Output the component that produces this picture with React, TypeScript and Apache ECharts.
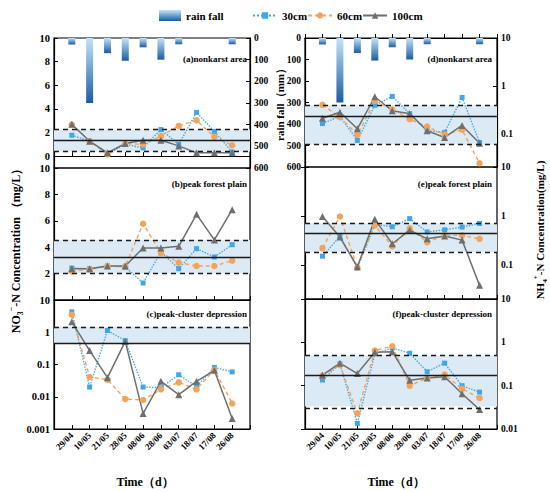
import React, { useEffect, useRef } from 'react';
import * as echarts from 'echarts';

const FONT = '"Liberation Serif", "Times New Roman", serif';

const dates = ['29/04', '10/05', '21/05', '28/05', '08/06', '28/06', '03/07', '18/07', '17/08', '26/08'];
const rainfall = [30, 300, 70, 105, 43, 100, 29, 0, 0, 29];

// NO3- (mg/L)
const no3A30 = [1.77, 1.27, 0.22, 1.0, 0.7, 2.25, 1.0, 3.7, 2.1, 0.35];
const no3A60 = [2.68, 1.27, 0.15, 1.07, 1.0, 1.7, 2.56, 3.04, 1.63, 0.93];
const no3A100 = [2.7, 1.27, 0.28, 1.07, 1.35, 1.35, 0.87, 0.28, 0.28, 0.28];
const no3ABand = [0.39, 1.32, 2.25];

const no3B30 = [2.42, 2.37, 2.58, 2.5, 1.29, 3.64, 2.37, 3.89, 3.26, 4.19];
const no3B60 = [2.17, 2.32, 2.55, 2.55, 5.78, 3.56, 2.83, 2.58, 2.58, 2.98];
const no3B100 = [2.37, 2.37, 2.58, 2.58, 3.94, 3.94, 4.07, 6.49, 4.55, 6.84];
const no3BBand = [2.0, 3.26, 4.55];

const no3C30 = [4.3, 0.02, 1.13, 0.55, 0.02, 0.019, 0.048, 0.021, 0.081, 0.059];
const no3C60 = [3.5, 0.041, 0.034, 0.0085, 0.0079, 0.017, 0.028, 0.017, 0.07, 0.0062];
const no3C100 = [2.1, 0.27, 0.039, 0.52, 0.003, 0.03, 0.0116, 0.03, 0.066, 0.0021];
const no3CBand = [0.44, 0.44, 1.47];

// NH4+ (mg/L)
const nh4D30 = [0.162, 0.23, 0.072, 0.39, 0.6, 0.26, 0.115, 0.106, 0.57, 0.065];
const nh4D60 = [0.4, 0.22, 0.095, 0.48, 0.32, 0.2, 0.14, 0.095, 0.12, 0.024];
const nh4D100 = [0.21, 0.28, 0.126, 0.59, 0.3, 0.26, 0.115, 0.083, 0.148, 0.063];
const nh4DBand = [0.059, 0.226, 0.39];

const nh4E30 = [0.15, 0.38, 0.087, 0.67, 0.6, 0.88, 0.47, 0.52, 0.59, 0.7];
const nh4E60 = [0.22, 0.97, 0.087, 0.64, 0.24, 0.56, 0.29, 0.4, 0.4, 0.34];
const nh4E100 = [0.97, 0.37, 0.091, 0.85, 0.27, 0.51, 0.34, 0.39, 0.32, 0.038];
const nh4EBand = [0.185, 0.44, 0.71];

const nh4F30 = [0.135, 0.32, 0.0135, 0.54, 0.74, 0.56, 0.21, 0.33, 0.1, 0.071];
const nh4F60 = [0.17, 0.3, 0.023, 0.65, 0.81, 0.1, 0.149, 0.18, 0.085, 0.052];
const nh4F100 = [0.175, 0.33, 0.19, 0.59, 0.61, 0.133, 0.15, 0.16, 0.065, 0.028];
const nh4FBand = [0.033, 0.17, 0.5];

const panelTitles = [
  '(a)nonkarst area',
  '(b)peak forest plain',
  '(c)peak-cluster depression',
  '(d)nonkarst area',
  '(e)peak forest plain',
  '(f)peak-cluster depression',
];

const rainGradient = () =>
  new echarts.graphic.LinearGradient(0, 0, 0, 1, [
    { offset: 0, color: '#c4e4f8' },
    { offset: 1, color: '#1a5ca5' },
  ]);

const logFmt = (v: number) => {
  const l = Math.log10(v);
  const r = Math.round(l);
  if (Math.abs(l - r) > 1e-6) return '';
  if (r >= 0) return String(Math.pow(10, r));
  return '0.' + '0'.repeat(-r - 1) + '1';
};

const lineStyles: Record<string, any> = {
  '30cm': { color: '#3fa6ea', symbol: 'rect', symbolSize: 5, lineStyle: { type: 'dotted', width: 1.4 } },
  '60cm': { color: '#f5a35a', symbol: 'circle', symbolSize: 6.5, lineStyle: { type: [4, 3], width: 1.4 } },
  '100cm': { color: '#6f6f6f', symbol: 'triangle', symbolSize: 7, lineStyle: { type: 'solid', width: 1.5 } },
};

function lineSeries(name: string, data: number[], gi: number, yi: number) {
  const s = lineStyles[name];
  return {
    type: 'line',
    name,
    xAxisIndex: gi,
    yAxisIndex: yi,
    data: data.map((v, i) => [i + 1, v]),
    symbol: s.symbol,
    symbolSize: s.symbolSize,
    showSymbol: true,
    itemStyle: { color: s.color },
    lineStyle: { ...s.lineStyle, color: s.color },
    z: 3,
  };
}

function bandSeries(band: number[], gi: number, yi: number, withLower: boolean) {
  const [lo, mean, hi] = band;
  const lines: any[] = [];
  if (withLower) lines.push({ yAxis: lo, lineStyle: { type: [5, 4] } });
  lines.push({ yAxis: mean, lineStyle: { type: 'solid' } });
  lines.push({ yAxis: hi, lineStyle: { type: [5, 4] } });
  return {
    type: 'line',
    name: 'band',
    xAxisIndex: gi,
    yAxisIndex: yi,
    data: [],
    z: 1,
    silent: true,
    markArea: {
      silent: true,
      itemStyle: { color: '#dbeaf4' },
      data: [[{ yAxis: lo }, { yAxis: hi }]],
    },
    markLine: {
      silent: true,
      symbol: ['none', 'none'],
      label: { show: false },
      lineStyle: { color: '#1a1a1a', width: 1.3 },
      data: lines,
    },
  };
}

const gridDefs = [
  { left: 54, top: 38, width: 196, height: 130 },
  { left: 54, top: 168, width: 196, height: 132 },
  { left: 54, top: 300, width: 196, height: 129 },
  { left: 305, top: 38, width: 192, height: 129 },
  { left: 305, top: 167, width: 192, height: 132 },
  { left: 305, top: 299, width: 192, height: 130 },
];

const axisLineStyle = { show: true, lineStyle: { color: '#000', width: 1.2 } };
const axisTickStyle = { show: true, inside: true, length: 4, lineStyle: { color: '#000', width: 1 } };
const lbl = (extra: any) => ({
  show: true,
  fontSize: 10.5,
  fontWeight: 'bold',
  fontFamily: FONT,
  color: '#000',
  margin: 4,
  ...extra,
});

export default function App() {
  const ref = useRef<HTMLDivElement>(null);

  useEffect(() => {
    if (!ref.current) return;
    const chart = echarts.init(ref.current, null, { renderer: 'svg' });

    const grids = gridDefs.map((g) => ({
      ...g,
      show: true,
      borderColor: '#000',
      borderWidth: 1.2,
      backgroundColor: 'transparent',
    }));

    const xAxes = gridDefs.map((_, i) => ({
      type: 'value',
      gridIndex: i,
      min: 0,
      max: 11,
      interval: 1,
      axisLine: axisLineStyle,
      axisTick: axisTickStyle,
      splitLine: { show: false },
      axisLabel:
        i === 2 || i === 5
          ? lbl({
              rotate: 45,
              fontSize: 9,
              margin: 5,
              formatter: (v: number) => dates[v - 1] ?? '',
            })
          : { show: false },
    }));

    const common = { axisLine: axisLineStyle, axisTick: axisTickStyle, splitLine: { show: false } };

    const yAxes = [
      {
        ...common,
        type: 'value',
        gridIndex: 0,
        position: 'left',
        min: -1,
        max: 10,
        splitNumber: 5,
        axisLabel: lbl({ formatter: (v: number) => (v < 0 ? '' : String(v)) }),
      },
      {
        ...common,
        type: 'value',
        gridIndex: 0,
        position: 'right',
        min: 0,
        max: 600,
        interval: 100,
        inverse: true,
        axisLabel: lbl({ fontSize: 9.5 }),
      },
      {
        ...common,
        type: 'value',
        gridIndex: 1,
        position: 'left',
        min: 0,
        max: 10,
        interval: 2,
        axisLabel: lbl({ formatter: (v: number) => (v === 0 ? '' : String(v)) }),
      },
      {
        ...common,
        type: 'log',
        logBase: 10,
        gridIndex: 2,
        position: 'left',
        min: 0.001,
        max: 10,
        axisLabel: lbl({ formatter: logFmt }),
      },
      {
        ...common,
        type: 'value',
        gridIndex: 3,
        position: 'left',
        min: 0,
        max: 600,
        interval: 100,
        inverse: true,
        axisLabel: lbl({ fontSize: 9.5 }),
      },
      {
        ...common,
        type: 'log',
        logBase: 10,
        gridIndex: 3,
        position: 'right',
        min: 0.02,
        max: 10,
        axisLabel: lbl({ fontSize: 9.5, formatter: logFmt }),
      },
      {
        ...common,
        type: 'log',
        logBase: 10,
        gridIndex: 4,
        position: 'right',
        min: 0.02,
        max: 10,
        axisLabel: lbl({ fontSize: 9.5, formatter: logFmt }),
      },
      {
        ...common,
        type: 'log',
        logBase: 10,
        gridIndex: 5,
        position: 'right',
        min: 0.01,
        max: 10,
        axisLabel: lbl({ fontSize: 9.5, formatter: logFmt }),
      },
    ];

    const panels: [number[], number[], number[], number[], number, number, boolean][] = [
      [no3A30, no3A60, no3A100, no3ABand, 0, 0, true],
      [no3B30, no3B60, no3B100, no3BBand, 1, 2, true],
      [no3C30, no3C60, no3C100, no3CBand, 2, 3, false],
      [nh4D30, nh4D60, nh4D100, nh4DBand, 3, 5, true],
      [nh4E30, nh4E60, nh4E100, nh4EBand, 4, 6, true],
      [nh4F30, nh4F60, nh4F100, nh4FBand, 5, 7, true],
    ];

    const series: any[] = [];
    panels.forEach(([d30, d60, d100, band, gi, yi, withLower]) => {
      series.push(bandSeries(band, gi, yi, withLower));
    });
    series.push({
      type: 'bar',
      name: 'rain fall',
      xAxisIndex: 0,
      yAxisIndex: 1,
      barWidth: 7,
      data: rainfall.map((v, i) => [i + 1, v]),
      itemStyle: { color: rainGradient() },
      z: 2,
    });
    series.push({
      type: 'bar',
      name: 'rain fall',
      xAxisIndex: 3,
      yAxisIndex: 4,
      barWidth: 7,
      data: rainfall.map((v, i) => [i + 1, v]),
      itemStyle: { color: rainGradient() },
      z: 2,
    });
    panels.forEach(([d30, d60, d100, band, gi, yi]) => {
      series.push(lineSeries('30cm', d30, gi, yi));
      series.push(lineSeries('60cm', d60, gi, yi));
      series.push(lineSeries('100cm', d100, gi, yi));
    });

    const titleTexts = panelTitles.map((t, i) => {
      const right = i < 3 ? 247 : 492;
      const y = [59, 184, 314][i % 3];
      return {
        type: 'text',
        x: right,
        y,
        silent: true,
        style: {
          text: t,
          fontSize: 9,
          fontWeight: 'bold',
          fontFamily: FONT,
          fill: '#000',
          align: 'right',
          textAlign: 'right',
          verticalAlign: 'middle',
          textVerticalAlign: 'middle',
        },
      };
    });

    const richBase = { fontFamily: FONT, fontWeight: 'bold', fill: '#000', color: '#000' };
    const vertText = (x: number, y: number, text: string, size: number) => ({
      type: 'text',
      x,
      y,
      rotation: Math.PI / 2,
      silent: true,
      style: {
        text,
        align: 'center',
        textAlign: 'center',
        verticalAlign: 'middle',
        textVerticalAlign: 'middle',
        fill: '#000',
        fontFamily: FONT,
        fontWeight: 'bold',
        fontSize: size,
        rich: {
          a: { ...richBase, fontSize: size, lineHeight: size + 5 },
          s: { ...richBase, fontSize: size * 0.65, lineHeight: size * 0.65, verticalAlign: 'bottom' },
          p: { ...richBase, fontSize: size * 0.65, lineHeight: size * 0.65, verticalAlign: 'top' },
        },
      },
    });

    const timeText = (x: number) => ({
      type: 'text',
      x,
      y: 482,
      silent: true,
      style: {
        text: 'Time（d）',
        fontSize: 12,
        fontWeight: 'bold',
        fontFamily: FONT,
        fill: '#000',
        align: 'center',
        textAlign: 'center',
        verticalAlign: 'middle',
        textVerticalAlign: 'middle',
      },
    });

    const legendText = { fontSize: 11, fontWeight: 'bold', fontFamily: FONT, color: '#000' };

    chart.setOption({
      animation: false,
      backgroundColor: '#fff',
      grid: grids,
      xAxis: xAxes,
      yAxis: yAxes,
      legend: [
        {
          data: [{ name: 'rain fall', icon: 'rect', itemStyle: { color: rainGradient() } }],
          left: 154,
          top: 5,
          itemWidth: 22,
          itemHeight: 11,
          itemGap: 0,
          selectedMode: false,
          textStyle: legendText,
        },
        {
          data: ['30cm', '60cm', '100cm'],
          left: 247,
          top: 5,
          itemWidth: 24,
          itemHeight: 8,
          itemGap: 0,
          selectedMode: false,
          textStyle: legendText,
        },
      ],
      series,
      graphic: [
        ...titleTexts,
        vertText(16, 248, '{a|NO}{s|3}{p|−}{a|-N Concentration （mg/L）}', 12),
        vertText(540, 230, '{a|NH}{s|4}{p|+}{a|-N Concentration(mg/L)}', 11),
        vertText(280, 102, '{a|rain fall（mm）}', 11),
        timeText(145),
        timeText(396),
      ],
    });

    return () => chart.dispose();
  }, []);

  return <div ref={ref} style={{ position: 'absolute', left: 0, top: 0, width: 550, height: 492 }} />;
}
